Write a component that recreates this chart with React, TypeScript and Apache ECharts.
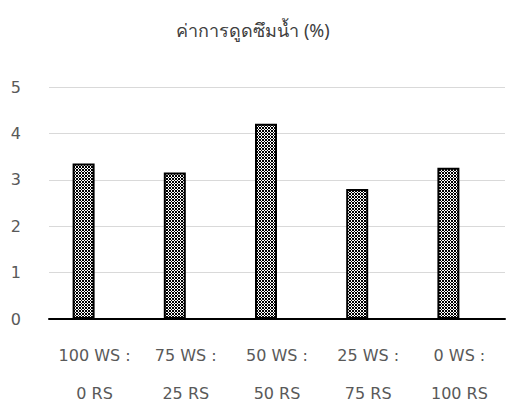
import React, { useEffect, useRef } from "react";
import * as echarts from "echarts";

const titleText = "ค่าการดูดซึมน้ำ (%)";
const categories = ["100 WS :\n0 RS", "75 WS :\n25 RS", "50 WS :\n50 RS", "25 WS :\n75 RS", "0 WS :\n100 RS"];
const values = [3.35, 3.16, 4.21, 2.8, 3.26];
const emptyValues = [null, null, null, null, null];
const yTicks = { min: 0, max: 5, interval: 1 };

function makePattern(): HTMLCanvasElement {
  const c = document.createElement("canvas");
  c.width = 6;
  c.height = 6;
  const ctx = c.getContext("2d")!;
  ctx.fillStyle = "#ffffff";
  ctx.fillRect(0, 0, 6, 6);
  ctx.fillStyle = "#000000";
  for (let y = 0; y < 6; y++) {
    for (let x = 0; x < 6; x++) {
      if ((x + y) % 3 === 0 || ((x - y) % 3 + 3) % 3 === 0) {
        ctx.fillRect(x, y, 1, 1);
      }
    }
  }
  return c;
}

export default function App() {
  const ref = useRef<HTMLDivElement>(null);
  useEffect(() => {
    if (!ref.current) return;
    const chart = echarts.init(ref.current, undefined, { renderer: "svg" });
    const pattern = makePattern();
    const font = "'DejaVu Sans', 'Noto Sans', sans-serif";
    chart.setOption({
      animation: false,
      title: {
        text: titleText,
        left: "center",
        top: 16,
        textStyle: { fontSize: 18, fontWeight: "normal", color: "#404040", fontFamily: "'Noto Sans', sans-serif" },
      },
      grid: { left: 49, right: 1, top: 87, bottom: 84, containLabel: false },
      xAxis: {
        type: "category",
        data: categories,
        axisLine: { lineStyle: { color: "#000000", width: 2 } },
        axisTick: { show: false },
        axisLabel: {
          interval: 0,
          margin: 17,
          fontSize: 16,
          lineHeight: 38,
          color: "#595959",
          fontFamily: font,
        },
      },
      yAxis: {
        type: "value",
        min: yTicks.min,
        max: yTicks.max,
        interval: yTicks.interval,
        axisLine: { show: false },
        axisTick: { show: false },
        splitLine: { lineStyle: { color: "#d9d9d9", width: 1 } },
        axisLabel: { margin: 28, fontSize: 16, color: "#595959", fontFamily: font },
      },
      series: [
        {
          type: "bar",
          data: values,
          barWidth: 22,
          barGap: "0%",
          itemStyle: {
            color: { image: pattern, repeat: "repeat" },
            borderColor: "#000000",
            borderWidth: 2,
          },
        },
        {
          type: "bar",
          data: emptyValues,
          barWidth: 22,
          barGap: "0%",
        },
      ],
    });
    return () => chart.dispose();
  }, []);
  return (
    <div
      ref={ref}
      style={{ position: "absolute", left: 0, top: 0, width: 506, height: 412 }}
    />
  );
}
